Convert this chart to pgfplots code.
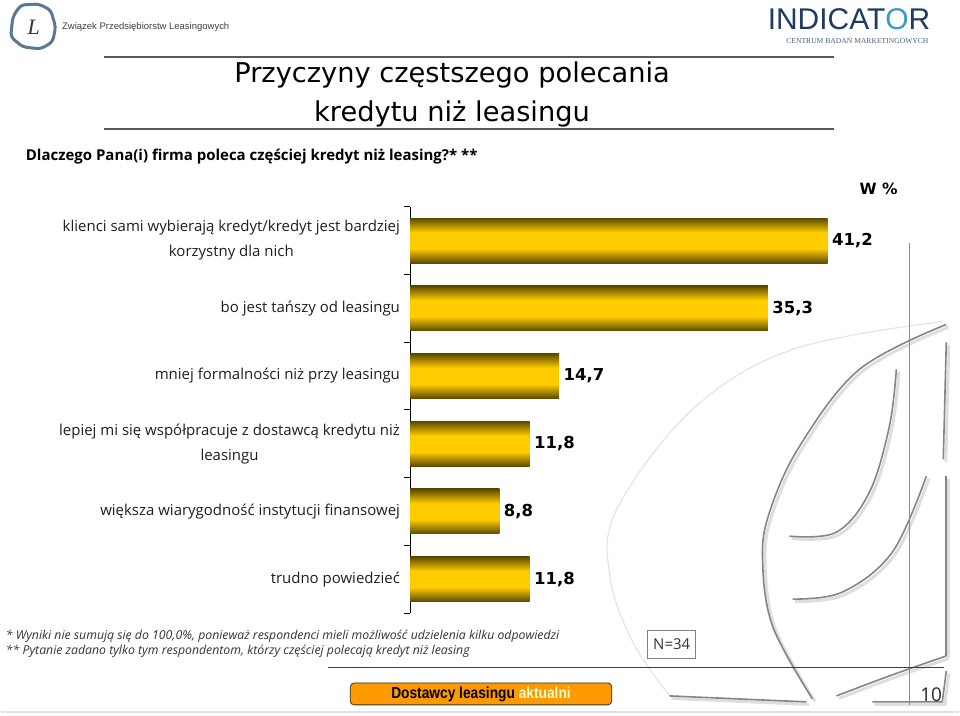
\documentclass[border=0pt]{standalone}
\usepackage{graphicx}
\usepackage{pgfplots}
\pgfplotsset{compat=1.18}
\usepackage{fontspec}
\setmainfont{Open Sans}
\newfontfamily\arialf{Liberation Sans}
\newfontfamily\seriff{Liberation Serif}
\newfontfamily\dejavu{DejaVu Sans}
\definecolor{bardark}{HTML}{5C4900}
\definecolor{baryellow}{HTML}{FFCC00}
\definecolor{btnorange}{HTML}{FF9900}
\definecolor{logoblue}{HTML}{1F3B63}
\definecolor{logocyan}{HTML}{3A9BC8}
\definecolor{mapblue}{HTML}{5A7894}
\pgfdeclareverticalshading{barshade}{100bp}{color(0bp)=(bardark); color(25bp)=(bardark); color(41bp)=(baryellow); color(59bp)=(baryellow); color(75bp)=(bardark); color(100bp)=(bardark)}
\pgfplotsset{shadedbar/.style={draw=none, shading=barshade}}
\tikzset{deco/.pic={
  \draw plot[smooth, tension=0.6] coordinates {(947,392) (860,347) (800,270) (770,204) (763,157) (773,90) (813,17)};
  \draw plot[smooth, tension=0.6] coordinates {(897,347) (890,290) (870,224) (837,184) (790,180)};
  \draw plot[smooth, tension=0.6] coordinates {(927,240) (893,164) (843,124) (793,117)};
  \draw (947,374) -- (944,257);
  \draw (947,240) -- (947,60);
  \draw plot[smooth, tension=0.6] coordinates {(837,20) (890,40) (947,60)};
  \draw (670,20) -- (807,14);
  \draw (873,14) -- (943,14) -- (947,45);
}}
\begin{document}
\begin{tikzpicture}[x=1pt,y=1pt]
\path[fill=white] (0,0) rectangle (960,717);
% background decorative shape (approximation)
\draw[black!10, line width=1.2pt] plot[smooth, tension=0.6] coordinates {(943,395) (793,367) (693,307) (617,207) (610,140) (633,74) (670,20)};
\pic[line width=3pt, black!13, shift={(2.5,-2.5)}] {deco};
\pic[line width=1.6pt, black!48] {deco};
% header logos
\draw[mapblue, line width=3pt, rounded corners=4pt] (12,700) -- (20,712) -- (38,713) -- (50,707) -- (55,690) -- (52,675) -- (40,668) -- (22,670) -- (10,680) -- cycle;
\node[font=\seriff\itshape\fontsize{22}{22}\selectfont, text=black!80] at (33,690) {L};
\node[anchor=base west, font=\arialf\fontsize{9.5}{11}\selectfont, text=black!75] at (58,687) {Związek Przedsiębiorstw Leasingowych};
\node[anchor=base west, font=\arialf\fontsize{30}{30}\selectfont, text=logoblue, inner sep=0pt] at (768,687) {INDICAT\textcolor{logocyan}{O}R};
\node[anchor=base, font=\seriff\fontsize{7.6}{9}\selectfont, text=logoblue!80, inner sep=0pt] at (858,673) {CENTRUM BADAŃ MARKETINGOWYCH};
% title
\draw[black!65, line width=1.5pt] (103,660) -- (835,660);
\draw[black!65, line width=1.5pt] (103,588) -- (835,588);
\node[anchor=base, font=\dejavu\fontsize{27.3}{36}\selectfont, inner sep=0pt] at (452,634) {Przyczyny częstszego polecania};
\node[anchor=base, font=\dejavu\fontsize{27.3}{36}\selectfont, inner sep=0pt] at (452,595) {kredytu niż leasingu};
\node[anchor=base west, font=\bfseries\fontsize{15}{18}\selectfont, inner sep=0pt] at (25,556) {Dlaczego Pana(i) firma poleca częściej kredyt niż leasing?* **};
\node[anchor=base west, font=\dejavu\bfseries\fontsize{15.5}{18}\selectfont, inner sep=0pt] at (860,522) {W \%};
% right vertical line
\draw[black!45, line width=0.8pt] (910,474) -- (910,11);
\begin{axis}[
  at={(410pt,103pt)}, anchor=south west, scale only axis,
  width=507.5pt, height=407pt,
  xbar, bar width=45pt, bar shift=0pt, enlargelimits=false,
  xmin=0, xmax=50, ymin=0.5, ymax=6.5, y dir=reverse,
  axis x line=none, axis y line*=left,
  y axis line style={black, line width=0.8pt, -},
  ytick={1,...,6},
  yticklabels={{klienci sami wybierają kredyt/kredyt jest bardziej\\korzystny dla nich},
    {bo jest tańszy od leasingu},
    {mniej formalności niż przy leasingu},
    {lepiej mi się współpracuje z dostawcą kredytu niż\\leasingu},
    {większa wiarygodność instytucji finansowej},
    {trudno powiedzieć}},
  yticklabel style={font=\fontsize{15}{25}\selectfont, align=center, text=black!88, anchor=east, inner sep=0pt, xshift=-10pt},
  minor ytick={0.5,1.5,...,6.5},
  major tick length=0pt, minor tick length=6pt, tick align=outside,
  minor tick style={black, line width=0.8pt},
  clip=false,
]
\addplot[shadedbar] coordinates {(41.2,1)};
\addplot[shadedbar] coordinates {(35.3,2)};
\addplot[shadedbar] coordinates {(14.7,3)};
\addplot[shadedbar] coordinates {(11.8,4)};
\addplot[shadedbar] coordinates {(8.8,5)};
\addplot[shadedbar] coordinates {(11.8,6)};
\addplot[draw=none, fill=none, point meta=x,
  nodes near coords={\pgfmathprintnumber[fixed,fixed zerofill,precision=1,use comma,assume math mode=true]{\pgfplotspointmeta}},
  every node near coord/.append style={font=\dejavu\bfseries\fontsize{16.5}{20}\selectfont, text=black, anchor=west, xshift=1pt}]
  coordinates {(41.2,1) (35.3,2) (14.7,3) (11.8,4) (8.8,5) (11.8,6)};
\end{axis}
% footnotes
\node[anchor=base west, font=\itshape\fontsize{12.3}{14}\selectfont, text=black!80, inner sep=0pt] at (5,76) {* Wyniki nie sumują się do 100,0\%, ponieważ respondenci mieli możliwość udzielenia kilku odpowiedzi};
\node[anchor=base west, font=\itshape\fontsize{12.3}{14}\selectfont, text=black!80, inner sep=0pt] at (5,61) {** Pytanie zadano tylko tym respondentom, którzy częściej polecają kredyt niż leasing};
\draw[black!50, line width=0.8pt, fill=white] (648,58) rectangle (696,86);
\node[font=\fontsize{15}{18}\selectfont, text=black!80] at (672,72) {N=34};
\draw[black!75, line width=0.9pt] (328,49) -- (945,49);
\draw[black!80, fill=btnorange, rounded corners=4pt, line width=0.8pt] (350,11) rectangle (612,33);
\node[font=\arialf\bfseries\fontsize{16}{18}\selectfont] at (481,22) {\scalebox{0.86}[1]{Dostawcy leasingu \textcolor{yellow!20}{aktualni}}};
\node[anchor=base east, font=\fontsize{19}{22}\selectfont, text=black!85, inner sep=0pt] at (943,14) {10};
\draw[black!12, line width=1.5pt] (0,4) -- (960,4);
\end{tikzpicture}
\end{document}
